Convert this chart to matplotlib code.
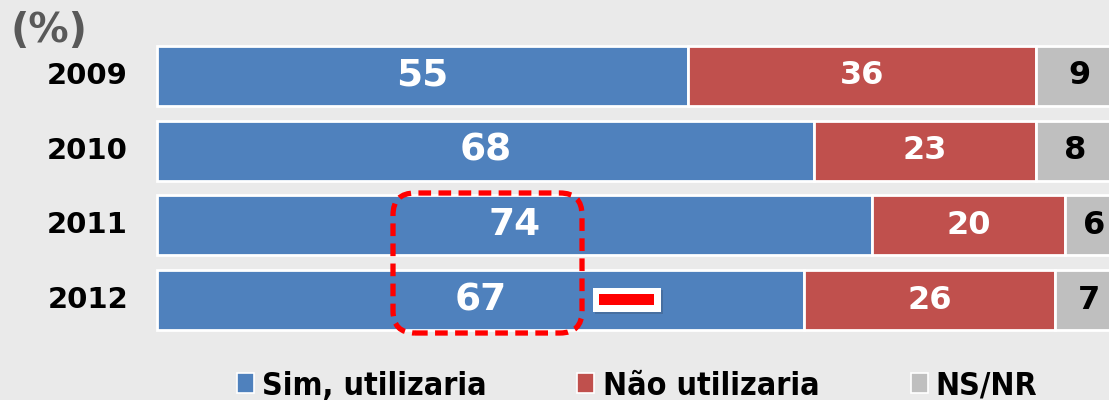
import matplotlib
matplotlib.use("Agg")
import matplotlib.pyplot as plt
from matplotlib.patches import FancyBboxPatch, Rectangle

years = ["2009", "2010", "2011", "2012"]
series = ["Sim, utilizaria", "Não utilizaria", "NS/NR"]
sim = [55, 68, 74, 67]
nao = [36, 23, 20, 26]
nsnr = [9, 8, 6, 7]

colors = ["#4f81bd", "#c0504d", "#bfbfbf"]
text_colors = ["white", "white", "black"]
label_sizes = [27, 23, 23]
bg = "#eaeaea"

W, H = 1109, 400
fig = plt.figure(figsize=(W / 100, H / 100), dpi=100, facecolor=bg)

# axes runs a bit past the right edge so the 100% bars get cut off
px_per_unit = 9.66
left = 157
ax = fig.add_axes([left / W, (H - 337.4) / H, 100 * px_per_unit / W, 298.8 / H])
ax.set_facecolor(bg)
ax.set_xlim(0, 100)
ax.set_ylim(3.5, -0.5)
ax.axis("off")

data = [sim, nao, nsnr]
starts = [0] * len(years)
for k, vals in enumerate(data):
    ax.barh(range(len(years)), vals, left=starts, height=0.8, color=colors[k],
            edgecolor="white", linewidth=2, clip_on=False)
    for i, v in enumerate(vals):
        ax.text(starts[i] + v / 2, i, str(v), ha="center", va="center",
                color=text_colors[k], fontsize=label_sizes[k], fontweight="bold",
                family="DejaVu Sans")
    starts = [s + v for s, v in zip(starts, vals)]

for i, y in enumerate(years):
    ax.text(-3.0, i, y, ha="right", va="center", fontsize=21, fontweight="bold",
            color="black")

fig.text(11 / W, 1 - 31 / H, "(%)", ha="left", va="center", fontsize=29,
         fontweight="bold", color="#595959")

# highlight around 2011/2012 values
box = FancyBboxPatch((393 / W, 1 - 333 / H), (582 - 393) / W, (333 - 193) / H,
                     boxstyle="round,pad=0,rounding_size=%f" % (22 / W),
                     mutation_aspect=W / H, transform=fig.transFigure,
                     facecolor="none", edgecolor="#ff0000", linewidth=3.8,
                     linestyle=(0, (2.4, 1.4)))
fig.patches.append(box)

# minus sign
fig.patches.append(Rectangle((595 / W, 1 - 314 / H), 68 / W, 24 / H,
                             transform=fig.transFigure, facecolor="#3a4f6a",
                             alpha=0.35, edgecolor="none"))
fig.patches.append(Rectangle((593 / W, 1 - 312 / H), 68 / W, 24 / H,
                             transform=fig.transFigure, facecolor="white",
                             edgecolor="none"))
fig.patches.append(Rectangle((599 / W, 1 - 305 / H), 55 / W, 11 / H,
                             transform=fig.transFigure, facecolor="#ff0000",
                             edgecolor="none"))

# legend
marker_x = [237, 577, 911]
text_x = [262, 603, 935]
for k, name in enumerate(series):
    fig.patches.append(Rectangle((marker_x[k] / W, 1 - 393 / H), 17 / W, 20 / H,
                                 transform=fig.transFigure, facecolor=colors[k],
                                 edgecolor="white", linewidth=1.2))
    fig.text(text_x[k] / W, 1 - 395 / H, name, ha="left", va="baseline",
             fontsize=23, fontweight="bold", fontstretch="condensed",
             family="DejaVu Sans", color="black")

fig.savefig("out.png", dpi=100, facecolor=bg)
